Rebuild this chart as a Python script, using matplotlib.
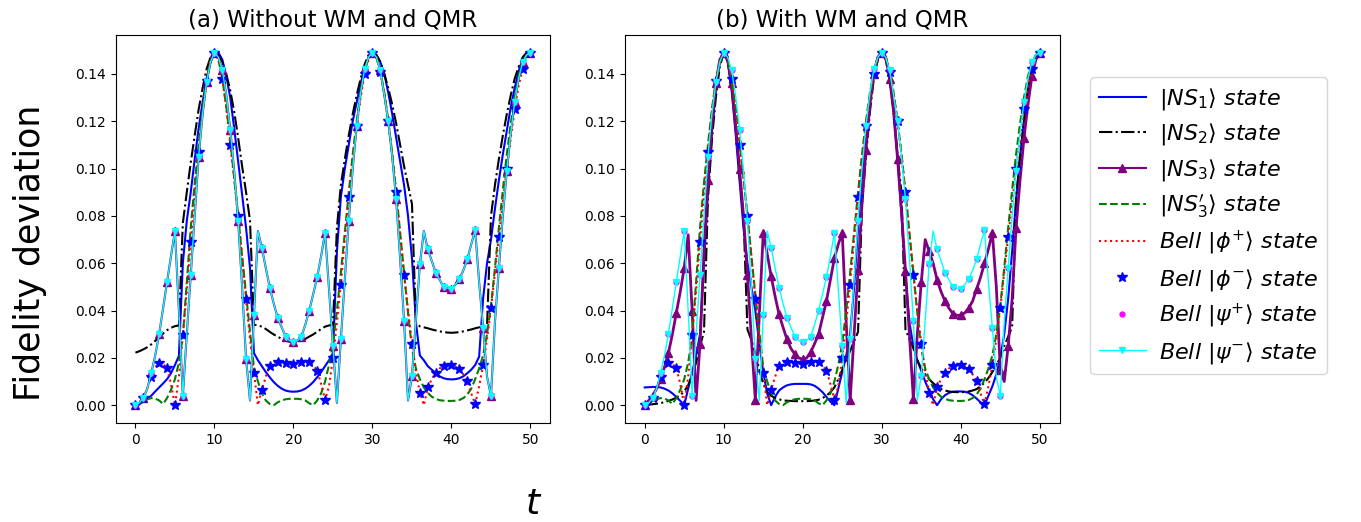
import numpy as np
import matplotlib.pyplot as plt

# sampling grid: t = 0, 0.5, ..., 50 (markers sit on whole t values)
t = np.linspace(0, 50, 101)

# ---- panel (a): without WM and QMR ----
ns1_a = [0.0, 0.0005, 0.0015, 0.0028, 0.004, 0.0058, 0.0075, 0.0092, 0.011, 0.0135,
         0.017, 0.0208, 0.060, 0.078, 0.090, 0.104, 0.117, 0.128, 0.138, 0.145,
         0.149, 0.149, 0.146, 0.139, 0.130, 0.117, 0.103, 0.089, 0.075, 0.058,
         0.022, 0.019, 0.0165, 0.014, 0.0118, 0.0098, 0.0082, 0.007, 0.0062, 0.0058,
         0.0057, 0.0058, 0.0062, 0.007, 0.0082, 0.0098, 0.0118, 0.014, 0.0165, 0.019,
         0.022, 0.065, 0.088, 0.100, 0.110, 0.120, 0.128, 0.136, 0.142, 0.147,
         0.149, 0.148, 0.145, 0.140, 0.132, 0.123, 0.113, 0.103, 0.093, 0.080,
         0.062, 0.035, 0.021, 0.019, 0.0165, 0.015, 0.0135, 0.0122, 0.0114, 0.011,
         0.0109, 0.011, 0.0114, 0.0122, 0.0135, 0.015, 0.017, 0.0205, 0.045, 0.060,
         0.070, 0.083, 0.095, 0.106, 0.116, 0.126, 0.134, 0.141, 0.146, 0.148, 0.149]

ns2_a = [0.0222, 0.0228, 0.0236, 0.0245, 0.0257, 0.0272, 0.0288, 0.0303, 0.0317, 0.0327,
         0.0334, 0.0337, 0.077, 0.090, 0.1025, 0.114, 0.125, 0.134, 0.142, 0.147,
         0.149, 0.148, 0.145, 0.140, 0.133, 0.124, 0.113, 0.101, 0.090, 0.078,
         0.034, 0.0337, 0.0332, 0.0322, 0.031, 0.0299, 0.029, 0.028, 0.0273, 0.0268,
         0.0266, 0.0268, 0.0273, 0.028, 0.029, 0.0299, 0.031, 0.0322, 0.0332, 0.0337,
         0.034, 0.075, 0.093, 0.104, 0.114, 0.123, 0.131, 0.138, 0.144, 0.148,
         0.149, 0.148, 0.145, 0.140, 0.134, 0.127, 0.119, 0.110, 0.101, 0.093,
         0.085, 0.035, 0.0333, 0.0329, 0.0325, 0.032, 0.0316, 0.0312, 0.0309, 0.0307,
         0.0306, 0.0307, 0.0309, 0.0312, 0.0316, 0.032, 0.0325, 0.0329, 0.0333, 0.0337,
         0.080, 0.093, 0.104, 0.114, 0.123, 0.131, 0.138, 0.143, 0.147, 0.149, 0.149]

# ---- panel (b): with WM and QMR ----
ns1_b = [0.0075, 0.0076, 0.0077, 0.0077, 0.0075, 0.007, 0.0062, 0.005, 0.0035, 0.0018,
         0.0, 0.007, 0.0138, 0.021, 0.030, 0.060, 0.090, 0.115, 0.133, 0.145,
         0.149, 0.145, 0.133, 0.115, 0.095, 0.075, 0.060, 0.050, 0.040, 0.026,
         0.014, 0.005, 0.0, 0.0035, 0.0062, 0.0075, 0.0084, 0.0088, 0.009, 0.009,
         0.009, 0.009, 0.0088, 0.0082, 0.007, 0.0055, 0.0035, 0.0015, 0.0, 0.007,
         0.014, 0.021, 0.030, 0.050, 0.075, 0.097, 0.115, 0.130, 0.141, 0.147,
         0.149, 0.147, 0.139, 0.125, 0.105, 0.080, 0.055, 0.035, 0.025, 0.019,
         0.0145, 0.010, 0.006, 0.0025, 0.0, 0.0025, 0.0042, 0.0052, 0.0057, 0.0058,
         0.0058, 0.0057, 0.0052, 0.0042, 0.0028, 0.0012, 0.0, 0.004, 0.008, 0.013,
         0.020, 0.030, 0.045, 0.065, 0.087, 0.105, 0.120, 0.133, 0.142, 0.147, 0.149]

ns2_b = [0.0, 0.0002, 0.0004, 0.0006, 0.0009, 0.0013, 0.0018, 0.0024, 0.0032, 0.0042,
         0.0058, 0.0085, 0.0125, 0.018, 0.025, 0.031, 0.087, 0.112, 0.130, 0.143,
         0.149, 0.146, 0.135, 0.120, 0.097, 0.080, 0.032, 0.0275, 0.022, 0.015,
         0.009, 0.0055, 0.004, 0.003, 0.0025, 0.002, 0.0019, 0.0018, 0.0017, 0.0017,
         0.0017, 0.0017, 0.0018, 0.002, 0.0023, 0.003, 0.004, 0.0055, 0.0075, 0.011,
         0.015, 0.019, 0.023, 0.027, 0.031, 0.085, 0.105, 0.124, 0.138, 0.146,
         0.149, 0.146, 0.138, 0.124, 0.105, 0.090, 0.032, 0.028, 0.024, 0.019,
         0.0155, 0.013, 0.011, 0.0093, 0.008, 0.0068, 0.0062, 0.0058, 0.0056, 0.0055,
         0.0055, 0.0056, 0.0058, 0.0062, 0.0068, 0.008, 0.0095, 0.0115, 0.014, 0.017,
         0.020, 0.025, 0.029, 0.033, 0.087, 0.105, 0.120, 0.133, 0.142, 0.147, 0.149]

ns3_b = [0.0, 0.002, 0.004, 0.007, 0.011, 0.016, 0.022, 0.030, 0.039, 0.048,
         0.058, 0.072, 0.040, 0.002, 0.026, 0.065, 0.095, 0.118, 0.136, 0.146,
         0.149, 0.146, 0.136, 0.118, 0.100, 0.080, 0.055, 0.028, 0.002, 0.038,
         0.0729, 0.064, 0.0545, 0.046, 0.0384, 0.033, 0.0278, 0.024, 0.0215, 0.020,
         0.0194, 0.020, 0.0224, 0.026, 0.030, 0.037, 0.044, 0.053, 0.062, 0.068,
         0.0729, 0.035, 0.002, 0.030, 0.057, 0.085, 0.108, 0.127, 0.140, 0.147,
         0.149, 0.147, 0.138, 0.124, 0.104, 0.082, 0.0567, 0.030, 0.0025, 0.030,
         0.052, 0.070, 0.065, 0.060, 0.053, 0.048, 0.044, 0.041, 0.0387, 0.038,
         0.038, 0.039, 0.041, 0.044, 0.049, 0.054, 0.060, 0.066, 0.0729, 0.050,
         0.015, 0.010, 0.025, 0.045, 0.075, 0.095, 0.113, 0.127, 0.139, 0.146, 0.149]

# ---- curves that are the same in both panels ----
ns3p = [0.0, 0.0008, 0.0018, 0.0025, 0.003, 0.0028, 0.002, 0.0005, 0.003, 0.0065,
        0.011, 0.018, 0.029, 0.052, 0.075, 0.094, 0.110, 0.125, 0.137, 0.145,
        0.149, 0.146, 0.138, 0.126, 0.112, 0.096, 0.080, 0.063, 0.047, 0.031,
        0.016, 0.010, 0.005, 0.002, 0.0005, 0.0, 0.0012, 0.002, 0.0025, 0.0027,
        0.0027, 0.0027, 0.0025, 0.002, 0.0008, 0.0, 0.002, 0.005, 0.010, 0.017,
        0.026, 0.040, 0.056, 0.073, 0.090, 0.106, 0.120, 0.132, 0.141, 0.147,
        0.149, 0.147, 0.141, 0.132, 0.120, 0.106, 0.090, 0.073, 0.056, 0.039,
        0.024, 0.0155, 0.011, 0.0075, 0.0052, 0.0036, 0.0027, 0.0021, 0.0019, 0.0018,
        0.0018, 0.0019, 0.0022, 0.003, 0.0045, 0.007, 0.011, 0.0155, 0.021, 0.030,
        0.042, 0.058, 0.075, 0.091, 0.106, 0.119, 0.130, 0.139, 0.145, 0.148, 0.149]

phi = [0.0, 0.001, 0.003, 0.007, 0.012, 0.016, 0.018, 0.0175, 0.0156, 0.009,
       0.0, 0.012, 0.0295, 0.048, 0.069, 0.089, 0.107, 0.124, 0.137, 0.146,
       0.149, 0.146, 0.138, 0.126, 0.110, 0.096, 0.080, 0.063, 0.0447, 0.028,
       0.0138, 0.0, 0.0065, 0.012, 0.0166, 0.018, 0.0184, 0.018, 0.0177, 0.0174,
       0.0173, 0.0176, 0.0183, 0.0185, 0.0184, 0.017, 0.0145, 0.009, 0.0022, 0.008,
       0.020, 0.035, 0.051, 0.070, 0.088, 0.104, 0.118, 0.130, 0.140, 0.146,
       0.149, 0.147, 0.141, 0.132, 0.120, 0.106, 0.090, 0.072, 0.0549, 0.040,
       0.026, 0.014, 0.0053, 0.0, 0.0075, 0.011, 0.0138, 0.0155, 0.0166, 0.0169,
       0.0169, 0.0163, 0.0152, 0.013, 0.0103, 0.005, 0.0004, 0.008, 0.0169, 0.028,
       0.041, 0.056, 0.071, 0.086, 0.100, 0.113, 0.125, 0.135, 0.142, 0.147, 0.149]

psi = [0.0, 0.001, 0.003, 0.007, 0.0135, 0.021, 0.030, 0.041, 0.052, 0.063,
       0.0735, 0.040, 0.004, 0.030, 0.055, 0.080, 0.105, 0.123, 0.1364, 0.145,
       0.149, 0.147, 0.1415, 0.131, 0.1165, 0.099, 0.078, 0.050, 0.0197, 0.002,
       0.038, 0.0736, 0.0665, 0.058, 0.0497, 0.043, 0.037, 0.033, 0.029, 0.0273,
       0.0267, 0.0273, 0.029, 0.034, 0.040, 0.047, 0.054, 0.063, 0.0729, 0.049,
       0.025, 0.001, 0.028, 0.053, 0.078, 0.100, 0.118, 0.132, 0.142, 0.147,
       0.149, 0.147, 0.1415, 0.131, 0.120, 0.105, 0.087, 0.062, 0.0356, 0.002,
       0.0124, 0.036, 0.0595, 0.0736, 0.0658, 0.061, 0.056, 0.053, 0.050, 0.0495,
       0.0492, 0.051, 0.0532, 0.057, 0.0616, 0.068, 0.074, 0.052, 0.0328, 0.012,
       0.004, 0.035, 0.058, 0.080, 0.099, 0.115, 0.128, 0.138, 0.145, 0.148, 0.149]

labels = [r'$|NS_1\rangle\ state$', r'$|NS_2\rangle\ state$', r'$|NS_3\rangle\ state$',
          r"$|NS_3'\rangle\ state$", r'$Bell\ |\phi^{+}\rangle\ state$',
          r'$Bell\ |\phi^{-}\rangle\ state$', r'$Bell\ |\psi^{+}\rangle\ state$',
          r'$Bell\ |\psi^{-}\rangle\ state$']

panels = [
    ('(a) Without WM and QMR', ns1_a, ns2_a, psi),
    ('(b) With WM and QMR', ns1_b, ns2_b, ns3_b),
]

fig = plt.figure(figsize=(13.61, 5.22), dpi=100)
lefts = [0.085, 0.4592]

for i, (title, ns1, ns2, ns3) in enumerate(panels):
    ax = fig.add_axes([lefts[i], 0.19, 0.3193, 0.743])
    ax.plot(t, ns1, '-', color='blue', lw=1.5, label=labels[0])
    ax.plot(t, ns2, '-.', color='black', lw=1.5, label=labels[1])
    ax.plot(t, ns3, '-', color='purple', lw=2 if i == 1 else 1.5, marker='^',
            markersize=6, markevery=2, label=labels[2])
    ax.plot(t, ns3p, '--', color='green', lw=1.5, label=labels[3])
    ax.plot(t, phi, ':', color='red', lw=1.5, label=labels[4])
    ax.plot(t[::2], phi[::2], '*', color='blue', markersize=7, ls='none', label=labels[5])
    ax.plot(t[::2], psi[::2], '.', color='magenta', markersize=7, ls='none', label=labels[6])
    ax.plot(t, psi, '-', color='cyan', lw=1, marker='v', markersize=5,
            markevery=2, label=labels[7])
    ax.set_title(title, fontsize=16.5)
    if i == 0:
        handles, labs = ax.get_legend_handles_labels()

fig.legend(handles, labs, loc='upper left', bbox_to_anchor=(0.801, 0.852),
           borderaxespad=0, fontsize=16, labelspacing=0.42, handlelength=2.1,
           handletextpad=0.6)
fig.text(0.022, 0.515, 'Fidelity deviation', rotation=90, va='center', ha='center',
         fontsize=25)
fig.text(0.392, 0.035, '$t$', ha='center', va='center', fontsize=26)

plt.savefig('out.png')
